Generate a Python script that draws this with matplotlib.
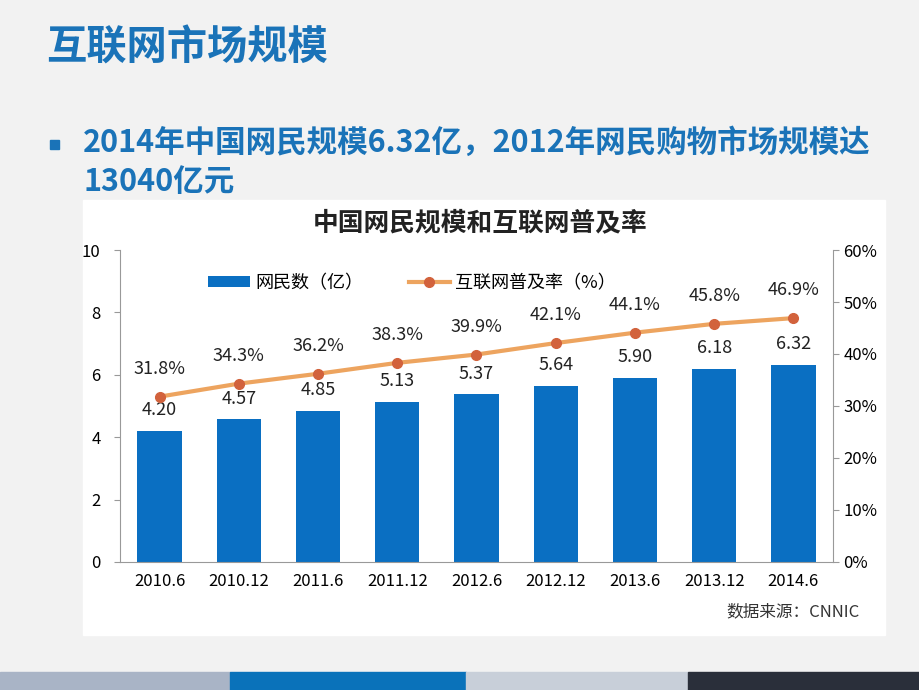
import matplotlib
matplotlib.use("Agg")
import matplotlib.pyplot as plt
from matplotlib.patches import Rectangle


# ---------------------------------------------------------
#  Data
# ---------------------------------------------------------

periods = ["2010.6", "2010.12", "2011.6", "2011.12", "2012.6",
           "2012.12", "2013.6", "2013.12", "2014.6"]
netizens = [4.20, 4.57, 4.85, 5.13, 5.37, 5.64, 5.90, 6.18, 6.32]
penetration = [31.8, 34.3, 36.2, 38.3, 39.9, 42.1, 44.1, 45.8, 46.9]

BLUE = "#0a6fc2"
HEAD_BLUE = "#1a73b8"
LINE_ORANGE = "#eda45f"
MARK_RED = "#d2623c"

plt.rcParams["font.family"] = ["Noto Sans CJK SC", "DejaVu Sans"]

W, H = 920, 690
fig = plt.figure(figsize=(W / 100, H / 100), dpi=100)
fig.patch.set_facecolor("#f2f2f2")


def fx(px):
    return px / W


def fy(py):
    return 1 - py / H


# slide heading and bullet
fig.text(fx(46), fy(48), "互联网市场规模", fontsize=29, fontweight="bold",
         color=HEAD_BLUE, va="center", ha="left")
fig.patches.append(Rectangle((fx(50), fy(149)), fx(9), 9 / H,
                             transform=fig.transFigure, color=HEAD_BLUE,
                             zorder=-1))
fig.text(fx(83), fy(143), "2014年中国网民规模6.32亿，2012年网民购物市场规模达",
         fontsize=22, fontweight="bold", color=HEAD_BLUE, va="center")
fig.text(fx(83), fy(182), "13040亿元", fontsize=22, fontweight="bold",
         color=HEAD_BLUE, va="center")

# white chart panel
fig.patches.append(Rectangle((fx(83), fy(635)), fx(885 - 83), (635 - 200) / H,
                             transform=fig.transFigure, color="white",
                             zorder=-1))

# bottom colour strip
strip = [(0, 230, "#a9b4c6"), (230, 466, "#0a72ba"),
         (466, 688, "#c8cfd9"), (688, 920, "#2a2f3a")]
for x0, x1, c in strip:
    fig.patches.append(Rectangle((fx(x0), 0), fx(x1 - x0), 18 / H,
                                 transform=fig.transFigure, color=c,
                                 zorder=-1))

fig.text(fx(480), fy(223), "中国网民规模和互联网普及率", fontsize=18.5,
         fontweight="bold", color="#222222", ha="center", va="center")
fig.text(fx(860), fy(612), "数据来源：CNNIC", fontsize=12,
         color="#333333", ha="right", va="center")

# ---------------------------------------------------------
#  Chart
# ---------------------------------------------------------

ax = fig.add_axes([fx(120), fy(562), fx(833 - 120), (562 - 250) / H])
ax.set_facecolor("none")
x = list(range(len(periods)))
bars = ax.bar(x, netizens, width=0.56, color=BLUE, label="网民数（亿）",
              zorder=2)
ax.set_xlim(-0.5, len(periods) - 0.5)
ax.set_ylim(0, 10)
ax.set_yticks([0, 2, 4, 6, 8, 10])
ax.set_xticks(x)
ax.set_xticklabels(periods)
ax.tick_params(axis="x", length=0, pad=8, labelsize=12)
ax.tick_params(axis="y", length=4, color="#999999", labelsize=12, pad=10)

for spine in ["top", "right"]:
    ax.spines[spine].set_visible(False)
ax.spines["left"].set_color("#999999")
ax.spines["bottom"].set_color("#999999")

for xi, v in zip(x, netizens):
    ax.annotate(f"{v:.2f}", (xi, v), xytext=(0, 15), textcoords="offset points",
                ha="center", va="center", fontsize=13, color="#222222",
                zorder=5)

ax2 = ax.twinx()
ax2.plot(x, penetration, color=LINE_ORANGE, lw=3, marker="o", markersize=7,
         markerfacecolor=MARK_RED, markeredgecolor=MARK_RED,
         label="互联网普及率（%）", zorder=3)
ax2.set_ylim(0, 60)
ax2.set_yticks(range(0, 61, 10))
ax2.set_yticklabels([f"{t}%" for t in range(0, 61, 10)])
ax2.tick_params(axis="y", length=4, color="#999999", labelsize=12)
for spine in ["top", "left", "bottom"]:
    ax2.spines[spine].set_visible(False)
ax2.spines["right"].set_color("#999999")

for xi, p in zip(x, penetration):
    ax2.annotate(f"{p:.1f}%", (xi, p), xytext=(0, 20),
                 textcoords="offset points", ha="center", va="center",
                 fontsize=13, color="#222222")

h1, l1 = ax.get_legend_handles_labels()
h2, l2 = ax2.get_legend_handles_labels()
ax2.legend(h1 + h2, l1 + l2, loc="upper center", bbox_to_anchor=(0.41, 0.975),
           ncol=2, frameon=False, fontsize=13, columnspacing=2.5,
           handlelength=2.3, handleheight=0.5, handletextpad=0.3)

fig.savefig("out.png", dpi=100, facecolor=fig.get_facecolor())
